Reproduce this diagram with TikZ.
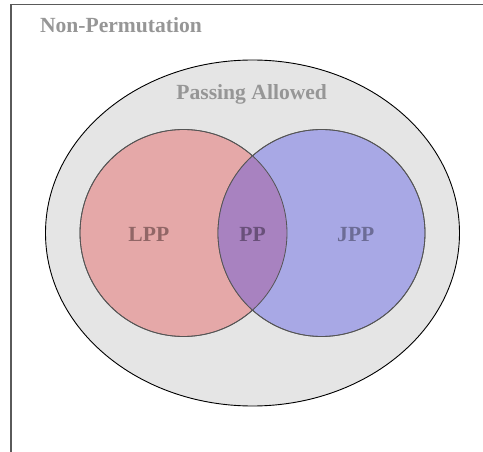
\documentclass[tikz,border=0pt]{standalone}
\usepackage{fontspec}
\setmainfont{Liberation Serif}
\usetikzlibrary{shapes.geometric}
\definecolor{setgray}{RGB}{229,229,229}
\definecolor{lppfill}{RGB}{229,168,168}
\definecolor{jppfill}{RGB}{168,168,229}
\definecolor{ppfill}{RGB}{168,130,192}
\definecolor{titlegray}{RGB}{150,150,150}
\definecolor{lpptext}{RGB}{145,102,102}
\definecolor{jpptext}{RGB}{108,108,150}
\definecolor{pptext}{RGB}{105,80,122}
\tikzset{
  lbl/.style={anchor=base, inner sep=0pt, font=\fontsize{21.6}{24}\selectfont\bfseries},
  setcircle/.style={circle, minimum size=207pt, inner sep=0pt, draw={rgb,255:red,85;green,85;blue,85}, line width=0.8pt}
}
\begin{document}
\begin{tikzpicture}[x=1pt, y=-1pt]
  \useasboundingbox (0,0) rectangle (483,452);
  % outer frame (open at the right and bottom)
  \draw[line width=1.4pt, color={rgb,255:red,90;green,90;blue,90}] (11,452) -- (11,4.5) -- (483,4.5);
  % Passing Allowed region
  \node[ellipse, minimum width=414pt, minimum height=346pt, inner sep=0pt, fill=setgray, draw=black, line width=0.9pt] (pa) at (252.5,233) {};
  % LPP and JPP circles
  \node[setcircle, fill=lppfill] (lppc) at (183.5,233) {};
  \node[setcircle, fill=jppfill] (jppc) at (321.5,233) {};
  % overlap (PP)
  \begin{scope}
    \clip (183.5,233) circle (103.5pt);
    \fill[ppfill] (321.5,233) circle (103.5pt);
  \end{scope}
  \node[setcircle] (lppo) at (183.5,233) {};
  \node[setcircle] (jppo) at (321.5,233) {};
  % labels
  \node[lbl, text=titlegray] (np) at (121,33) {Non-Permutation};
  \node[lbl, text=titlegray] (pal) at (251.7,100) {Passing Allowed};
  \node[lbl, text=lpptext] (lpp) at (148.8,241) {LPP};
  \node[lbl, text=pptext] (pp) at (252.5,241) {PP};
  \node[lbl, text=jpptext] (jpp) at (355.8,241) {JPP};
\end{tikzpicture}
\end{document}
